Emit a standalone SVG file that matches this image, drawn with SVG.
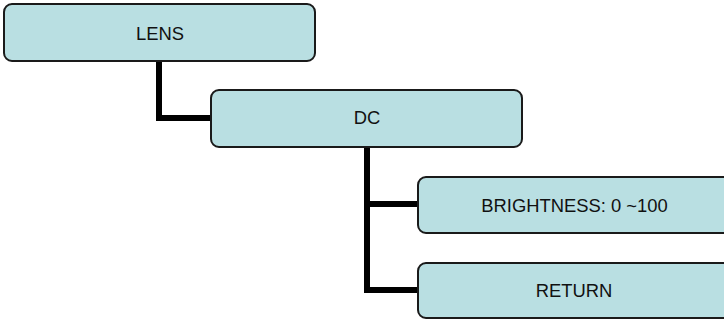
<svg xmlns="http://www.w3.org/2000/svg" width="724" height="320" viewBox="0 0 724 320">
<style>
.box{fill:#b9dfe2;stroke:#1a1a1a;stroke-width:2}
.lbl{font-family:"Liberation Sans",Arial,sans-serif;font-size:18.4px;fill:#111;text-anchor:middle}
.con{fill:none;stroke:#000;stroke-width:6;stroke-linejoin:miter}
</style>
<rect width="724" height="320" fill="#fff"/>
<g id="connectors">
<path class="con" d="M159 61 V118 H212"/>
<path class="con" d="M367 147 V290 H419"/>
<path class="con" d="M367 204 H419"/>
</g>
<g id="lens"><rect class="box" x="4" y="4" width="311" height="57" rx="8"/><text class="lbl" x="160" y="40">LENS</text></g>
<g id="dc"><rect class="box" x="211" y="90" width="311" height="57" rx="8"/><text class="lbl" x="367" y="124">DC</text></g>
<g id="brightness"><rect class="box" x="418" y="177" width="316" height="56" rx="8"/><text class="lbl" x="574.5" y="211.5">BRIGHTNESS: 0 ~100</text></g>
<g id="return"><rect class="box" x="418" y="263" width="316" height="55" rx="8"/><text class="lbl" x="574" y="297">RETURN</text></g>
</svg>
